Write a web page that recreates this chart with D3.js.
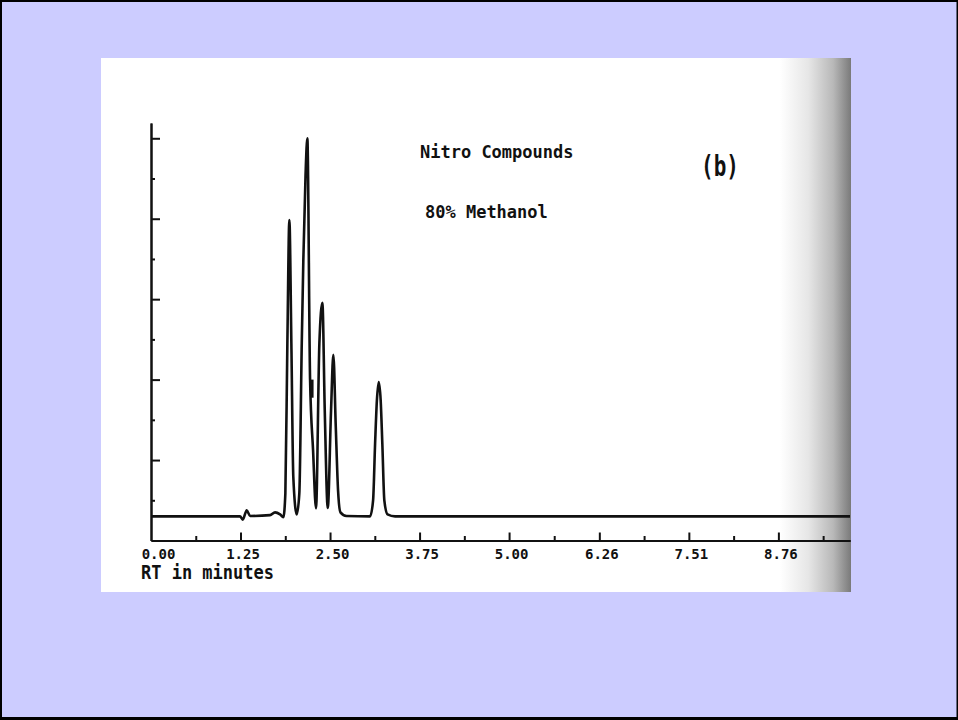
<!DOCTYPE html>
<html lang="en">

<head>
    <meta charset="UTF-8">
    <title>Nitro Compounds - 80% Methanol</title>
    <script src="https://d3js.org/d3.v7.min.js"></script>
    <style>
        body {
            margin: 0;
            overflow: hidden;
            background: #000;
        }

        text {
            font-family: "DejaVu Sans Mono", monospace;
            fill: #111;
        }

        .axis path,
        .axis line {
            stroke: #111;
            stroke-width: 2px;
        }
    </style>
</head>

<body>
    <script>
        // retention time (min) and detector signal
        var traceTime = [0, 1.243, 1.281, 1.337, 1.383, 1.662, 1.732, 1.802, 1.848, 1.876, 1.904, 1.932, 1.960, 1.987,
            2.035, 2.071, 2.105, 2.127, 2.158, 2.183, 2.221, 2.263, 2.304, 2.351, 2.393, 2.426, 2.468, 2.514, 2.546,
            2.580, 2.612, 2.645, 2.729, 3.059, 3.101, 3.129, 3.154, 3.180, 3.207, 3.230, 3.258, 3.303, 3.408, 9.76];
        var traceSignal = [0.60, 0.60, 0.52, 0.75, 0.61, 0.63, 0.70, 0.65, 0.58, 1.17, 4.90, 7.97, 4.90, 1.58,
            0.65, 1.17, 4.90, 6.97, 9.09, 10.00, 4.01, 2.24, 0.80, 4.90, 5.91, 3.24, 0.81, 3.24, 4.62,
            2.82, 1.24, 0.70, 0.61, 0.60, 1.00, 2.41, 3.48, 3.94, 3.48, 2.41, 1.00, 0.65, 0.60, 0.60];

        // integration mark on the big peak
        var markTime = [2.228];
        var markTop = [4.0];
        var markBottom = [3.55];

        var xTicks = [0, 1.25, 2.50, 3.75, 5.00, 6.26, 7.51, 8.76];
        var xMinorTicks = [0.625, 1.875, 3.125, 4.375, 5.63, 6.885, 8.135, 9.385];
        var yTicks = [2, 4, 6, 8, 10];
        var yMinorTicks = [1, 3, 5, 7, 9];

        var width = 958,
            height = 720;

        var svg = d3.select("body").append("svg")
            .attr("width", width)
            .attr("height", height);

        // page frame
        svg.append("rect")
            .attr("x", 2).attr("y", 2)
            .attr("width", 954.5).attr("height", 715)
            .attr("fill", "#ccccff");

        // scanned sheet with a shadow on the right edge
        var grad = svg.append("defs").append("linearGradient")
            .attr("id", "shade")
            .attr("gradientUnits", "userSpaceOnUse")
            .attr("x1", 780).attr("x2", 851).attr("y1", 0).attr("y2", 0);
        grad.append("stop").attr("offset", 0).attr("stop-color", "#fff");
        grad.append("stop").attr("offset", 0.4).attr("stop-color", "#e6e6e6");
        grad.append("stop").attr("offset", 0.75).attr("stop-color", "#b8b8b8");
        grad.append("stop").attr("offset", 1).attr("stop-color", "#7a7a7a");

        svg.append("rect")
            .attr("x", 101).attr("y", 58)
            .attr("width", 750).attr("height", 534)
            .attr("fill", "url(#shade)");

        var x = d3.scaleLinear().domain([0, 9.76]).range([151, 850]);
        var y = d3.scaleLinear().domain([0, 10.38]).range([540.5, 123]);

        // x axis: ticks point up, labels below
        svg.append("g")
            .attr("class", "axis")
            .attr("transform", "translate(0," + y(0) + ")")
            .call(d3.axisBottom(x).tickValues(xMinorTicks).tickSizeInner(-4.5).tickSizeOuter(0).tickFormat(""));

        var xAxis = svg.append("g")
            .attr("class", "axis")
            .attr("transform", "translate(0," + y(0) + ")")
            .call(d3.axisBottom(x).tickValues(xTicks).tickSizeInner(-8).tickSizeOuter(0)
                .tickPadding(9).tickFormat(d3.format(".2f")));
        xAxis.selectAll(".tick text")
            .attr("font-family", "DejaVu Sans Mono")
            .attr("font-size", 14)
            .attr("font-weight", "bold")
            .attr("fill", "#111")
            .attr("dx", (d, i) => i === 0 ? 7 : 2);
        xAxis.select(".tick:first-of-type line").remove();

        // y axis: ticks point right
        svg.append("g")
            .attr("class", "axis")
            .attr("transform", "translate(" + x(0) + ",0)")
            .call(d3.axisRight(y).tickValues(yMinorTicks).tickSizeInner(4).tickSizeOuter(0).tickFormat(""));
        svg.append("g")
            .attr("class", "axis")
            .attr("transform", "translate(" + x(0) + ",0)")
            .call(d3.axisRight(y).tickValues(yTicks).tickSizeInner(9).tickSizeOuter(0).tickFormat(""));

        // chromatogram trace
        var points = traceTime.map((t, i) => [t, traceSignal[i]]);
        var line = d3.line()
            .x(d => x(d[0]))
            .y(d => y(d[1]))
            .curve(d3.curveMonotoneX);

        svg.append("path")
            .datum(points)
            .attr("fill", "none")
            .attr("stroke", "#111")
            .attr("stroke-width", 2.6)
            .attr("stroke-linejoin", "round")
            .attr("d", line);

        svg.selectAll(".mark")
            .data(markTime)
            .enter().append("rect")
            .attr("class", "mark")
            .attr("x", d => x(d))
            .attr("y", (d, i) => y(markTop[i]))
            .attr("width", 3)
            .attr("height", (d, i) => y(markBottom[i]) - y(markTop[i]))
            .attr("fill", "#111");

        // annotations
        svg.append("text")
            .attr("transform", "translate(420,158) scale(1,1.08)")
            .attr("font-size", 17)
            .attr("font-weight", "bold")
            .text("Nitro Compounds");

        svg.append("text")
            .attr("transform", "translate(425,218) scale(1,1.08)")
            .attr("font-size", 17)
            .attr("font-weight", "bold")
            .text("80% Methanol");

        svg.append("text")
            .attr("transform", "translate(720,176) scale(1,1.35)")
            .attr("text-anchor", "middle")
            .attr("font-size", 21)
            .attr("font-weight", "bold")
            .text("(b)");

        svg.append("text")
            .attr("transform", "translate(141,579) scale(1,1.1)")
            .attr("font-size", 17)
            .attr("font-weight", "bold")
            .text("RT in minutes");
    </script>
</body>

</html>
